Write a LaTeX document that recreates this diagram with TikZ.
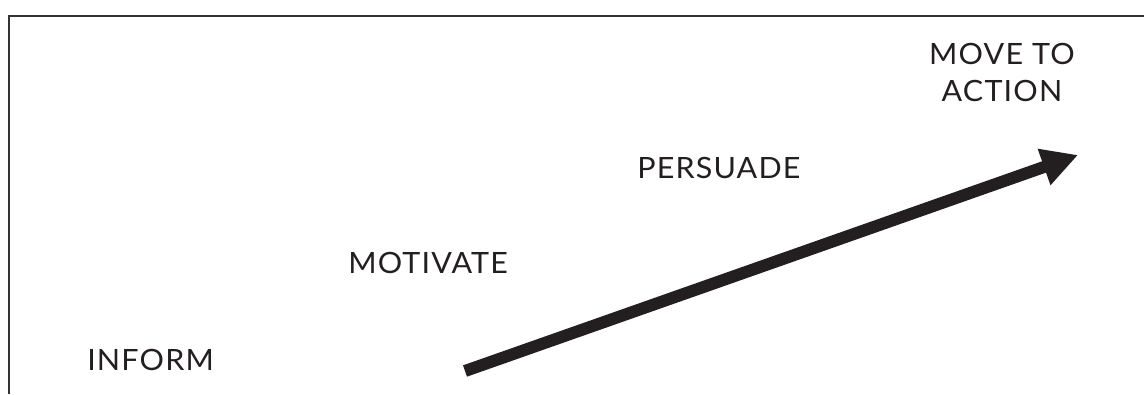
\documentclass[tikz,border=0pt]{standalone}
\usepackage{fontspec}
\setmainfont{Lato}[LetterSpace=4,FakeStretch=1.04]
\usetikzlibrary{arrows.meta}
\definecolor{ink}{HTML}{231F20}
\definecolor{framec}{HTML}{333333}
\begin{document}
\begin{tikzpicture}[x=0.75pt,y=-0.75pt,
  lbl/.style={inner sep=0pt,anchor=base west,text=ink,font=\fontsize{22}{27.75}\selectfont},
  framel/.style={draw=framec,line width=2pt},
  bigarrow/.style={draw=ink,line width=9pt,-{Triangle[length=27pt,width=27pt]}}]
\useasboundingbox (0,0) rectangle (1144,394);
\coordinate (fb) at (9,394);
\coordinate (fc) at (9,16);
\coordinate (fr) at (1144,16);
\draw[framel] (fb) -- (fc) -- (fr);
\node[lbl] (inform) at (87,370) {INFORM};
\node[lbl] (motivate) at (348,273) {MOTIVATE};
\node[lbl] (persuade) at (637,178) {PERSUADE};
\node[lbl,anchor=north,align=center] (move) at (1002,43) {MOVE TO\\ACTION};
\coordinate (tail) at (465,371);
\coordinate (tip) at (1078,155);
\draw[bigarrow] (tail) -- (tip);
\end{tikzpicture}
\end{document}
